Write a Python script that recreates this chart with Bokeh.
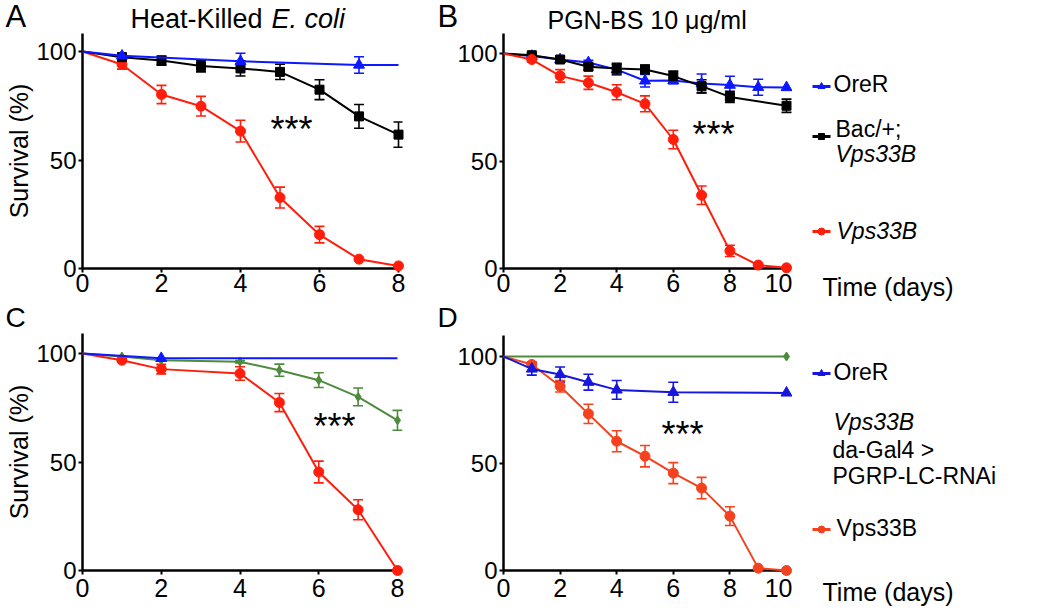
from bokeh.plotting import figure
from bokeh.models import Range1d, FixedTicker, Whisker, TeeHead, ColumnDataSource, Label
from bokeh.layouts import column, row
from bokeh.embed import file_html
from bokeh.resources import INLINE

# ---------------- data (survival %, SEM) ----------------
A_ore_days = [0, 1, 4, 7, 8]
A_ore = [100, 98, 95.5, 93.8, 93.8]
A_ore_err = [0, 1, 3.7, 3.8, 0]
A_ore_marked = [1, 4, 7]
A_bac_days = [0, 1, 2, 3, 4, 5, 6, 7, 8]
A_bac = [100, 97.4, 95.8, 93.3, 92.2, 90.6, 82.4, 70.1, 61.7]
A_bac_err = [0, 1, 2.1, 2.7, 3.5, 3.5, 4.6, 5.5, 5.8]
A_vps_days = [0, 1, 2, 3, 4, 5, 6, 7, 8]
A_vps = [100, 94, 80.2, 74.8, 63.3, 32.7, 15.6, 4.3, 1.2]
A_vps_err = [0, 2.1, 4.2, 4.5, 5, 4.8, 3.8, 0, 0]

B_ore_days = [0, 1, 2, 3, 4, 5, 6, 7, 8, 9, 10]
B_ore = [100, 98.8, 97.2, 95.8, 92.5, 87.3, 87.4, 86, 85.3, 84.3, 84.2]
B_ore_err = [0, 0.8, 1, 1, 2.5, 2.9, 1.5, 4.5, 4.1, 3.7, 0]
B_bac_days = [0, 1, 2, 3, 4, 5, 6, 7, 8, 10]
B_bac = [100, 99.2, 97.2, 93.8, 93, 92.6, 89.5, 84.8, 79.8, 75.7]
B_bac_err = [0, 1, 1, 1.5, 2.5, 2, 2.3, 3, 2.6, 3.1]
B_vps_days = [0, 1, 2, 3, 4, 5, 6, 7, 8, 9, 10]
B_vps = [100, 97.2, 89.6, 86.4, 82, 76.6, 60, 34.1, 8.2, 1.6, 0.3]
B_vps_err = [0, 1, 2.9, 3.1, 3.5, 3.7, 4.3, 4.3, 2.6, 0, 0]

C_ore_days = [0, 2, 8]
C_ore = [100, 97.8, 97.8]
C_ore_err = [0, 0, 0]
C_ore_marked = [2]
C_rnai_days = [0, 1, 2, 4, 5, 6, 7, 8]
C_rnai = [100, 98.6, 96.9, 96.2, 92.3, 87.7, 80, 69.2]
C_rnai_err = [0, 0, 0, 0.5, 2.8, 3.4, 4.1, 4.6]
C_vps_days = [0, 1, 2, 4, 5, 6, 7, 8]
C_vps = [100, 96.9, 92.8, 90.8, 77.4, 45.4, 28, 0]
C_vps_err = [0, 0.8, 2.2, 3.1, 4.2, 5, 4.6, 0]

D_rnai_days = [0, 10]
D_rnai = [100, 100]
D_rnai_err = [0, 0]
D_rnai_marked = [10]
D_ore_days = [0, 1, 2, 3, 4, 6, 10]
D_ore = [100, 94.2, 91.6, 88, 84.4, 83.3, 83]
D_ore_err = [0, 2.9, 3.5, 3.7, 4.4, 4.7, 0]
D_vps_days = [0, 1, 2, 3, 4, 5, 6, 7, 8, 9, 10]
D_vps = [100, 96.3, 86.1, 73.2, 60.4, 53.4, 45.5, 38.5, 25.4, 1.1, 0]
D_vps_err = [0, 1.2, 2.7, 4.5, 4.9, 5, 4.9, 5, 4.4, 0, 0]

x_ticks_8 = [0, 2, 4, 6, 8]
x_ticks_10 = [0, 2, 4, 6, 8, 10]
y_ticks = [0, 50, 100]

# ---------------- styling ----------------
FONT = "Liberation Sans"
RED = "#ff1e0c"
RED_D = "#f4421e"
BLUE = "#0c18ff"
BLUE_D = "#1616dc"
BLACK = "#000000"
GREEN = "#4c8c3c"


class Frame:
    """Page-pixel geometry of one panel and its mapping to data values."""

    def __init__(self, fig_left, fig_top, w, h, fl, fr, ft, fb, x0px, x1px, x1, y0px, y1px):
        self.fig_left, self.fig_top, self.w, self.h = fig_left, fig_top, w, h
        self.fl, self.fr, self.ft, self.fb = fl, fr, ft, fb
        self.x0px, self.y0px = x0px, y0px
        self.xppu = (x1px - x0px) / x1
        self.yppu = (y0px - y1px) / 100.0

    def dx(self, px):
        return (px - self.x0px) / self.xppu

    def dy(self, py):
        return (self.y0px - py) / self.yppu


class PixelFrame:
    """Identity mapping for text-only strips (data space = page pixels)."""

    def dx(self, px):
        return px

    def dy(self, py):
        return py


PIX = PixelFrame()


def no_align(p):
    try:
        p.frame_align = False
    except Exception:
        pass


def make_fig(f, xmax, ticks, ylabel, x_standoff):
    p = figure(width=f.w, height=f.h,
               x_range=Range1d(f.dx(f.fl), f.dx(f.fr)),
               y_range=Range1d(f.dy(f.fb), f.dy(f.ft)),
               output_backend="svg", toolbar_location=None,
               min_border_left=f.fl - f.fig_left,
               min_border_right=f.fig_left + f.w - f.fr,
               min_border_top=f.ft - f.fig_top,
               min_border_bottom=f.fig_top + f.h - f.fb)
    no_align(p)
    p.outline_line_color = None
    p.grid.visible = False
    p.background_fill_color = "white"
    p.border_fill_color = "white"
    xa = p.xaxis[0]
    xa.ticker = FixedTicker(ticks=ticks)
    xa.bounds = (0, xmax)
    ya = p.yaxis[0]
    ya.ticker = FixedTicker(ticks=y_ticks)
    for ax in (xa, ya):
        ax.axis_line_width = 2.5
        ax.axis_line_color = "black"
        ax.major_tick_line_width = 2
        ax.major_tick_out = 4
        ax.major_tick_in = 0
        ax.minor_tick_out = 0
        ax.minor_tick_in = 0
        ax.major_label_text_font = FONT
        ax.major_label_text_color = "black"
    xa.major_label_text_font_size = "25px"
    xa.major_label_standoff = x_standoff
    ya.major_label_text_font_size = "24px"
    ya.major_label_standoff = 2
    if ylabel:
        ya.axis_label = ylabel
        ya.axis_label_text_font = FONT
        ya.axis_label_text_font_size = "25px"
        ya.axis_label_text_font_style = "normal"
        ya.axis_label_text_color = "black"
        ya.axis_label_standoff = 0
    return p


def text_fig(left, top, w, h):
    """A text-only strip whose data space is the page's pixel grid."""
    p = figure(width=w, height=h, x_range=Range1d(left, left + w), y_range=Range1d(top + h, top),
               x_axis_type=None, y_axis_type=None, output_backend="svg", toolbar_location=None,
               min_border=0)
    no_align(p)
    p.outline_line_color = None
    p.grid.visible = False
    p.background_fill_color = "white"
    p.border_fill_color = "white"
    return p


def series(p, days, surv, err, color, marker, size, marked=None):
    p.line(days, surv, line_color=color, line_width=2, level="overlay")
    if marked is None:
        marked = [d for d in days if d != 0]
    mx = [d for d in days if d in marked]
    my = [s for d, s in zip(days, surv) if d in marked]
    p.scatter(mx, my, marker=marker, size=size, fill_color=color, line_color=color, level="overlay")
    eb = [(d, s, e) for d, s, e in zip(days, surv, err) if e > 0]
    if eb:
        src = ColumnDataSource(dict(base=[t[0] for t in eb],
                                    upper=[t[1] + t[2] for t in eb],
                                    lower=[t[1] - t[2] for t in eb]))
        p.add_layout(Whisker(source=src, base="base", upper="upper", lower="lower",
                             line_color=color, line_width=1.6,
                             upper_head=TeeHead(size=10, line_color=color, line_width=1.6),
                             lower_head=TeeHead(size=10, line_color=color, line_width=1.6)))


def label(p, f, px, base_py, s, fs, style="normal"):
    """Text whose left edge is at px and whose baseline is at base_py (page pixels)."""
    mid_py = base_py - 0.3465 * fs
    p.add_layout(Label(x=f.dx(px), y=f.dy(mid_py), text=s, text_font=FONT,
                       text_font_size=f"{fs}px", text_font_style=style, text_align="left",
                       text_baseline="middle", text_color="black"))


def swatch(p, color, marker, msize, py):
    p.line([812, 830], [py, py], line_color=color, line_width=3)
    p.scatter([821], [py], marker=marker, size=msize, fill_color=color, line_color=color)


# ---------------- page geometry (page pixels) ----------------
fA = Frame(0, 33, 430, 268, 82, 402, 33, 268, 82, 398, 8, 268, 51)
fB = Frame(430, 33, 362, 268, 503, 792, 33, 268, 503, 786, 10, 268, 53)
fC = Frame(0, 333, 430, 279, 82, 402, 333, 570, 82, 397, 8, 570, 353)
fD = Frame(430, 333, 362, 279, 503, 792, 335, 570, 503, 786, 10, 570, 356)

# ---- header strips ----
h1 = text_fig(0, 0, 1050, 33)
label(h1, PIX, 5, 27, "A", 31)
label(h1, PIX, 130, 28, "Heat-Killed", 27)
label(h1, PIX, 271, 28, "E. coli", 27, "italic")
label(h1, PIX, 437, 27, "B", 31)
label(h1, PIX, 547, 28, "PGN-BS 10 \u03bcg/ml", 25)

h2 = text_fig(0, 301, 1050, 32)
label(h2, PIX, 5, 327, "C", 28)
label(h2, PIX, 437, 327, "D", 28)

# ---- A ----
pA = make_fig(fA, 8.05, x_ticks_8, "Survival (%)", 1)
series(pA, A_vps_days, A_vps, A_vps_err, RED, "circle", 10)
series(pA, A_bac_days, A_bac, A_bac_err, BLACK, "square", 9)
series(pA, A_ore_days, A_ore, A_ore_err, BLUE, "triangle", 11, A_ore_marked)
label(pA, fA, 270, 141, "***", 36)

# ---- B ----
pB = make_fig(fB, 10.1, x_ticks_10, None, 1)
series(pB, B_ore_days, B_ore, B_ore_err, BLUE, "triangle", 11)
series(pB, B_bac_days, B_bac, B_bac_err, BLACK, "square", 9)
series(pB, B_vps_days, B_vps, B_vps_err, RED, "circle", 10)
label(pB, fB, 692, 146, "***", 36)

legB = text_fig(792, 33, 258, 268)
swatch(legB, BLUE, "triangle", 7, 86)
label(legB, PIX, 833, 91, "OreR", 23)
swatch(legB, BLACK, "square", 6, 136)
label(legB, PIX, 835, 136, "Bac/+;", 23)
label(legB, PIX, 835, 161, "Vps33B", 23, "italic")
swatch(legB, RED, "circle", 7, 231)
label(legB, PIX, 836, 238, "Vps33B", 23, "italic")
label(legB, PIX, 822, 295, "Time (days)", 25)

# ---- C ----
pC = make_fig(fC, 8.05, x_ticks_8, "Survival (%)", 4)
series(pC, C_rnai_days, C_rnai, C_rnai_err, GREEN, "diamond", 9)
series(pC, C_vps_days, C_vps, C_vps_err, RED, "circle", 10)
series(pC, C_ore_days, C_ore, C_ore_err, BLUE, "triangle", 11, C_ore_marked)
label(pC, fC, 313, 438, "***", 36)

# ---- D ----
pD = make_fig(fD, 10.1, x_ticks_10, None, 4)
series(pD, D_rnai_days, D_rnai, D_rnai_err, GREEN, "diamond", 9, D_rnai_marked)
series(pD, D_vps_days, D_vps, D_vps_err, RED_D, "circle", 10)
series(pD, D_ore_days, D_ore, D_ore_err, BLUE_D, "triangle", 11)
label(pD, fD, 661, 446, "***", 36)

legD = text_fig(792, 333, 258, 279)
swatch(legD, BLUE_D, "triangle", 7, 373)
label(legD, PIX, 833, 379, "OreR", 23)
label(legD, PIX, 833, 429, "Vps33B", 23, "italic")
label(legD, PIX, 832, 457, "da-Gal4 >", 23)
label(legD, PIX, 832, 483, "PGRP-LC-RNAi", 23)
swatch(legD, RED_D, "circle", 7, 529)
label(legD, PIX, 836, 535, "Vps33B", 23)
label(legD, PIX, 822, 600, "Time (days)", 25)

layout = column(h1, row(pA, pB, legB), h2, row(pC, pD, legD))
open("out.html", "w").write(file_html(layout, INLINE))
